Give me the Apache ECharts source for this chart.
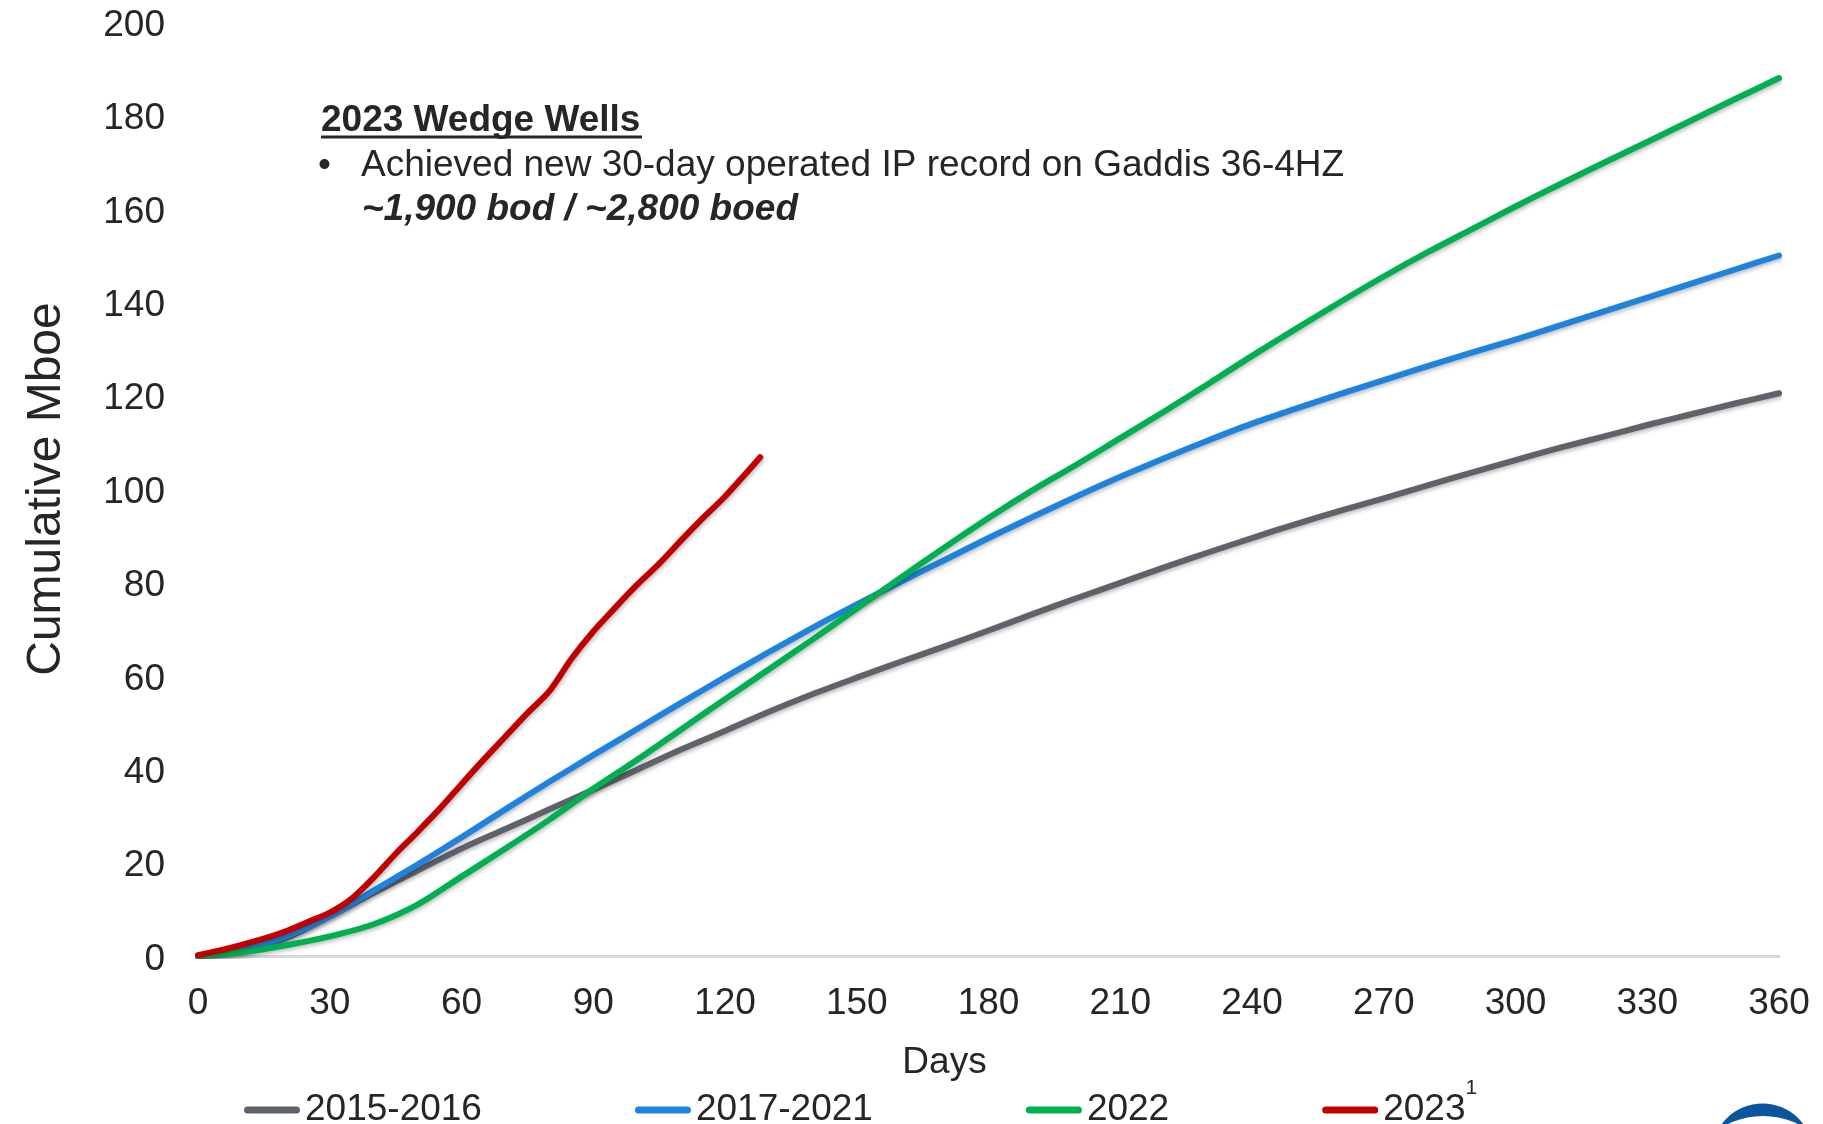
<!DOCTYPE html>
<html>
<head>
<meta charset="utf-8">
<title>Cumulative Mboe by well vintage</title>
<script src="https://cdn.jsdelivr.net/npm/echarts@6/dist/echarts.min.js"></script>
<style>
  html, body { margin: 0; padding: 0; background: #ffffff; }
  #chart { width: 1823px; height: 1124px; }
</style>
</head>
<body>
<div id="chart"></div>
<script>
// Vintage names, in drawing order (later ones sit on top)
const seriesNames = ['2015-2016', '2017-2021', '2022', '2023'];
const seriesColors = ['#5e6269', '#1f83dd', '#00b050', '#c00000'];

// Type-curve days (0..360 every 10 days)
const days = [0, 10, 20, 30, 40, 50, 60, 70, 80, 90, 100, 110, 120, 130, 140, 150, 160, 170, 180,
              190, 200, 210, 220, 230, 240, 250, 260, 270, 280, 290, 300, 310, 320, 330, 340, 350, 360];

// Cumulative Mboe per vintage
const mboe2015to2016 = [0, 1.3, 3.8, 8.5, 13.5, 18.3, 23, 27.2, 31.4, 35.6, 39.9, 44.2, 48.2, 52.3, 56.1, 59.6, 63, 66.3, 69.7,
                        73.2, 76.6, 79.9, 83.2, 86.4, 89.5, 92.5, 95.3, 98, 100.8, 103.5, 106.2, 108.8, 111.2, 113.7, 116, 118.3, 120.5];
const mboe2017to2021 = [0, 1.3, 4.2, 8.5, 14, 19.6, 25.4, 31.4, 37.3, 43, 48.6, 54.2, 59.7, 65.1, 70.3, 75.3, 80.1, 84.8, 89.5,
                        94, 98.4, 102.6, 106.6, 110.4, 114, 117.2, 120.3, 123.3, 126.3, 129.2, 132, 135, 138, 141, 144, 147, 150];
const mboe2022 = [0, 0.8, 2.3, 4.2, 6.8, 11, 17, 23, 29.2, 35.8, 42, 48.5, 55, 61.4, 67.8, 74.4, 81, 87.5, 93.8,
                  99.7, 105.2, 110.9, 116.6, 122.5, 128.5, 134.3, 140, 145.5, 150.7, 155.6, 160.5, 165.2, 169.8, 174.3, 178.9, 183.5, 188];

// 2023 wells: actual production to date (shorter history)
const days2023 = [0, 5, 10, 15, 20, 25, 30, 35, 40, 45, 50, 55, 60, 65, 70, 75, 80, 85, 90, 95, 100, 105, 110, 115, 120, 125, 128];
const mboe2023 = [0.2, 1.2, 2.4, 3.7, 5.3, 7.3, 9.3, 12.3, 16.8, 21.9, 26.6, 31.5, 36.8, 42, 47, 52, 56.7, 63.6, 69.5,
                  74.6, 79.5, 84, 89, 93.8, 98.4, 103.6, 106.8];

// Axis scales
const xMin = 0, xMax = 360, xStep = 30;
const yMin = 0, yMax = 200, yStep = 20;

const FONT = "'Liberation Sans', Arial, Helvetica, sans-serif";
const TEXT = '#262626';

const pairs = (xs, ys) => xs.map((x, i) => [x, ys[i]]);
const seriesData = [
  pairs(days, mboe2015to2016),
  pairs(days, mboe2017to2021),
  pairs(days, mboe2022),
  pairs(days2023, mboe2023)
];

const chart = echarts.init(document.getElementById('chart'), null, { renderer: 'canvas' });

chart.setOption({
  animation: false,
  backgroundColor: '#ffffff',
  textStyle: { fontFamily: FONT },
  grid: { left: 198, right: 44, top: 22, bottom: 168, containLabel: false, outerBoundsMode: 'none' },
  xAxis: {
    type: 'value',
    min: xMin, max: xMax, interval: xStep,
    name: 'Days',
    nameLocation: 'middle',
    nameGap: 88,
    nameTextStyle: { fontSize: 37, color: TEXT, fontFamily: FONT, padding: [0, 88, 0, 0] },
    axisLine: { show: true, lineStyle: { color: '#d9d9d9', width: 3 } },
    axisTick: { show: false },
    splitLine: { show: false },
    axisLabel: { fontSize: 37, color: TEXT, fontFamily: FONT, margin: 29 }
  },
  yAxis: {
    type: 'value',
    min: yMin, max: yMax, interval: yStep,
    name: 'Cumulative Mboe',
    nameLocation: 'middle',
    nameGap: 127,
    nameTextStyle: { fontSize: 48, color: TEXT, fontFamily: FONT },
    axisLine: { show: false },
    axisTick: { show: false },
    splitLine: { show: false },
    axisLabel: {
      margin: 33,
      formatter: '{v|{value}}',
      rich: { v: { fontSize: 37, color: TEXT, fontFamily: FONT, padding: [7, 0, 0, 0] } }
    }
  },
  legend: {
    left: 244,
    top: 1078,
    padding: 0,
    orient: 'horizontal',
    itemWidth: 56,
    itemHeight: 7,
    itemGap: 153,
    icon: 'path://M3.5,0 H52.5 A3.5,3.5 0 0 1 52.5,7 H3.5 A3.5,3.5 0 0 1 3.5,0 Z',
    data: seriesNames,
    formatter: name => (name === '2023' ? '2023{sup|1}' : name),
    textStyle: {
      fontSize: 37, color: TEXT, fontFamily: FONT, lineHeight: 64,
      rich: { sup: { fontSize: 21, lineHeight: 14, verticalAlign: 'top', color: TEXT, fontFamily: FONT } }
    }
  },
  series: seriesNames.map((name, i) => ({
    name,
    type: 'line',
    data: seriesData[i],
    showSymbol: false,
    smooth: 0.3,
    color: seriesColors[i],
    lineStyle: {
      width: 6, color: seriesColors[i], cap: 'round', join: 'round',
      shadowColor: 'rgba(0,0,0,0.28)', shadowBlur: 4, shadowOffsetX: 1, shadowOffsetY: 2
    },
    emphasis: { disabled: true },
    z: 2 + i
  })),
  graphic: [
    {
      type: 'text', x: 321, y: 121, z: 10,
      style: { text: '2023 Wedge Wells', font: "bold 37px " + FONT, fill: TEXT, verticalAlign: 'middle', align: 'left' }
    },
    {
      type: 'line', z: 10,
      shape: { x1: 321, y1: 137, x2: 642, y2: 137 },
      style: { stroke: TEXT, lineWidth: 3 }
    },
    {
      type: 'text', x: 318, y: 165.5, z: 10,
      style: { text: '•', font: "37px " + FONT, fill: TEXT, verticalAlign: 'middle', align: 'left' }
    },
    {
      type: 'text', x: 361, y: 165.5, z: 10,
      style: { text: 'Achieved new 30-day operated IP record on Gaddis 36-4HZ', font: "37px " + FONT, fill: TEXT, verticalAlign: 'middle', align: 'left' }
    },
    {
      type: 'text', x: 362, y: 209.5, z: 10,
      style: { text: '~1,900 bod / ~2,800 boed', font: "italic bold 37px " + FONT, fill: TEXT, verticalAlign: 'middle', align: 'left' }
    },
    // corner logo mark (partly cut off by the page edge)
    { type: 'circle', z: 10, shape: { cx: 1762.5, cy: 1154, r: 50.6 }, style: { fill: '#0b559f' } },
    { type: 'circle', z: 11, shape: { cx: 1763, cy: 1196, r: 80 }, style: { fill: '#ffffff' } }
  ]
});
</script>
</body>
</html>
